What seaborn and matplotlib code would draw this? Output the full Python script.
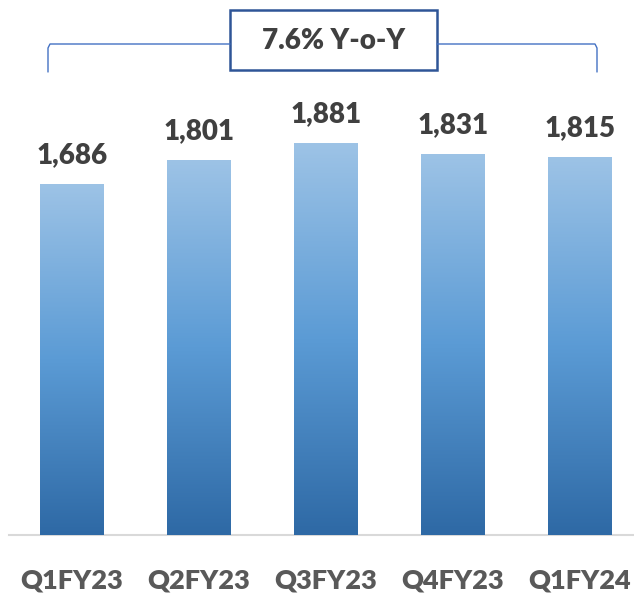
import numpy as np
import pandas as pd
import matplotlib
matplotlib.use("Agg")
import matplotlib.pyplot as plt
import seaborn as sns
from matplotlib.colors import LinearSegmentedColormap
from matplotlib.patches import Rectangle

quarters = ["Q1FY23", "Q2FY23", "Q3FY23", "Q4FY23", "Q1FY24"]
values = [1686, 1801, 1881, 1831, 1815]
yoy_text = "7.6% Y-o-Y"

df = pd.DataFrame({"quarter": quarters, "value": values})

sns.set_style("white")
plt.rcParams["font.family"] = ["Lato", "DejaVu Sans"]

W, H = 634, 594
fig = plt.figure(figsize=(W / 100, H / 100), dpi=100)
# axes: left 9px, right 634px, bottom at y=535 from top, top at y=0
ax = fig.add_axes([9 / W, (H - 535) / H, (634 - 9) / W, 535 / H])

sns.barplot(data=df, x="quarter", y="value", ax=ax, width=0.5,
            color="#5B9BD5", saturation=1, edgecolor="none")

# vertical gradient inside each bar
cmap = LinearSegmentedColormap.from_list("grad", ["#2E69A5", "#5B9BD5", "#9DC3E6"])
grad = np.linspace(0, 1, 256).reshape(-1, 1)
for p in ax.patches:
    x0, y0 = p.get_x(), p.get_y()
    w, h = p.get_width(), p.get_height()
    im = ax.imshow(grad, cmap=cmap, origin="lower", aspect="auto",
                   extent=[x0, x0 + w, y0, y0 + h], zorder=3)
    im.set_clip_path(p)
    p.set_facecolor("none")
ax.set_xlim(-0.496, 4.425)
ax.set_ylim(0, 2568)

for i, v in enumerate(values):
    ax.text(i, v + 75, f"{v:,}", ha="center", va="bottom",
            fontsize=20, fontweight="heavy", color="#404040", zorder=4)

for s in ["top", "right", "left"]:
    ax.spines[s].set_visible(False)
ax.spines["bottom"].set_color("#D9D9D9")
ax.spines["bottom"].set_linewidth(1.5)
ax.set_yticks([])
ax.set_xlabel("")
ax.set_ylabel("")
ax.tick_params(axis="x", length=0, pad=24)
for lab in ax.get_xticklabels():
    lab.set_fontsize(19.5)
    lab.set_fontweight("heavy")
    lab.set_color("#595959")

# bracket with Y-o-Y box (figure pixel coords)
def fx(px):
    return px / W

def fy(py):
    return (H - py) / H

bc = "#4472C4"
fig.lines.append(plt.Line2D([fx(48), fx(48), fx(50), fx(230)],
                            [fy(72), fy(48), fy(44), fy(44)],
                            transform=fig.transFigure, color=bc, lw=1))
fig.lines.append(plt.Line2D([fx(437), fx(595), fx(597), fx(597)],
                            [fy(44), fy(44), fy(48), fy(72)],
                            transform=fig.transFigure, color=bc, lw=1))
fig.patches.append(Rectangle((fx(230), fy(70)), fx(437) - fx(230), fy(10) - fy(70),
                             transform=fig.transFigure, facecolor="white",
                             edgecolor="#2F5597", lw=1.8))
fig.text(fx(333.5), fy(41), yoy_text, ha="center", va="center",
         fontsize=20, fontweight="heavy", color="#404040")

fig.savefig("out.png", dpi=100)
